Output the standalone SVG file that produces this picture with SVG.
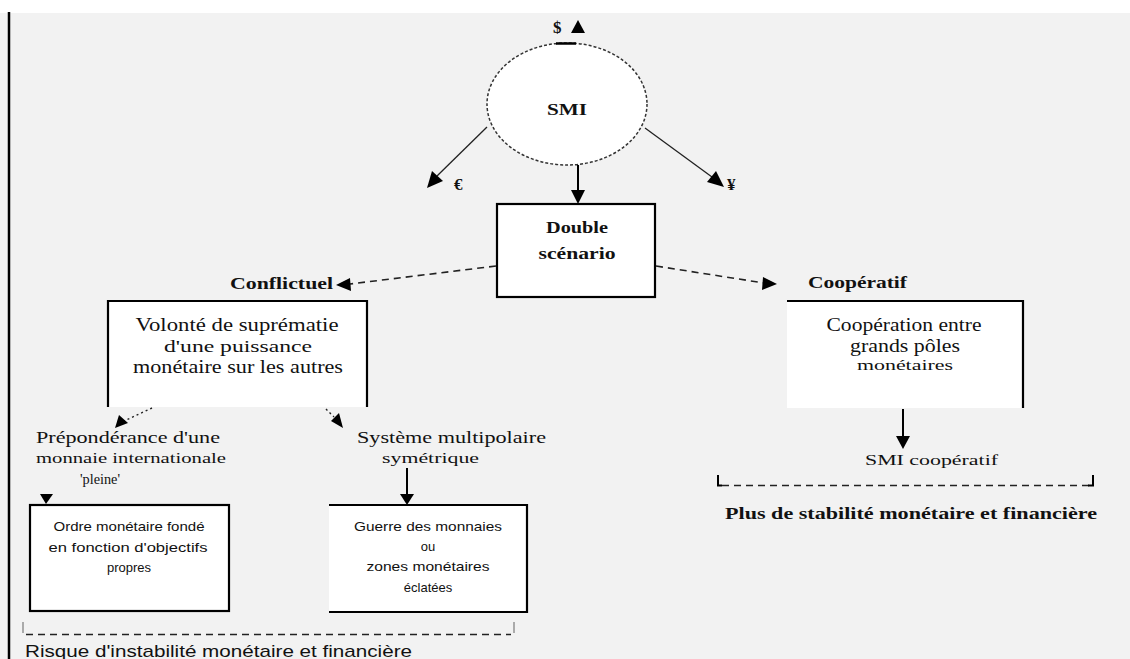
<svg xmlns="http://www.w3.org/2000/svg" width="1130" height="659" viewBox="0 0 1130 659">
<style>
.serif{font-family:"Liberation Serif","Times New Roman",serif;fill:#111}
.sans{font-family:"Liberation Sans",Arial,sans-serif;fill:#111}
.b{font-weight:bold}
.box{fill:#fff;stroke:none}
.edge{stroke:#000;stroke-width:2.2;fill:none}
.solid{stroke:#000;stroke-width:2;fill:none}
.thin{stroke:#222;stroke-width:1.3;fill:none}
.dash{stroke:#222;stroke-width:1.6;fill:none;stroke-dasharray:7 5}
.dot{stroke:#222;stroke-width:1.4;fill:none;stroke-dasharray:2 3}
.head{fill:#000}
</style>
<rect x="0" y="0" width="1130" height="659" fill="#fff"/>
<rect x="0" y="13" width="1130" height="646" fill="#f2f2f2"/>
<line x1="9" y1="12" x2="9" y2="659" stroke="#000" stroke-width="2.5"/>

<g id="smi">
<ellipse cx="567" cy="104" rx="80" ry="61" fill="#fff" stroke="#333" stroke-width="1.5" stroke-dasharray="3 2"/>
<line x1="556" y1="43.5" x2="576" y2="43.5" stroke="#000" stroke-width="2.5"/>
<text class="serif b" x="567" y="115" font-size="17" text-anchor="middle" textLength="40" lengthAdjust="spacingAndGlyphs">SMI</text>
</g>

<g id="dollar">
<text class="serif b" x="553" y="33" font-size="17">$</text>
<polygon class="head" points="571,33 585,33 578,20"/>
</g>
<g id="euro"><text class="serif b" x="454" y="190" font-size="17">€</text></g>
<g id="yen"><text class="serif b" x="727" y="190" font-size="17">¥</text></g>

<g id="double">
<rect class="box" x="497" y="204" width="158" height="93"/>
<rect x="497" y="204" width="158" height="93" fill="none" stroke="#000" stroke-width="2.2"/>
<text class="serif b" x="577" y="233" font-size="16" text-anchor="middle" textLength="62" lengthAdjust="spacingAndGlyphs">Double</text>
<text class="serif b" x="577" y="259" font-size="16" text-anchor="middle" textLength="77" lengthAdjust="spacingAndGlyphs">scénario</text>
</g>

<g id="conflictuel">
<text class="serif b" x="230" y="289" font-size="16" textLength="103" lengthAdjust="spacingAndGlyphs">Conflictuel</text>
</g>
<g id="cooperatif">
<text class="serif b" x="808" y="288" font-size="16" textLength="99" lengthAdjust="spacingAndGlyphs">Coopératif</text>
</g>

<g id="volonte">
<rect class="box" x="108" y="301" width="259" height="106"/>
<path class="edge" d="M108,407 V301 H367 V407"/>
<text class="serif" x="237" y="331" font-size="18" text-anchor="middle" textLength="203" lengthAdjust="spacingAndGlyphs">Volonté de suprématie</text>
<text class="serif" x="238" y="352" font-size="16" text-anchor="middle" textLength="148" lengthAdjust="spacingAndGlyphs">d'une puissance</text>
<text class="serif" x="238" y="373" font-size="18" text-anchor="middle" textLength="210" lengthAdjust="spacingAndGlyphs">monétaire sur les autres</text>
</g>

<g id="cooperation">
<rect class="box" x="787" y="301" width="236" height="107"/>
<path class="edge" d="M787,301 H1023 V408"/>
<text class="serif" x="904" y="331" font-size="18" text-anchor="middle" textLength="155" lengthAdjust="spacingAndGlyphs">Coopération entre</text>
<text class="serif" x="905" y="352" font-size="18" text-anchor="middle" textLength="110" lengthAdjust="spacingAndGlyphs">grands pôles</text>
<text class="serif" x="905" y="370" font-size="14" text-anchor="middle" textLength="96" lengthAdjust="spacingAndGlyphs">monétaires</text>
</g>

<g id="preponderance">
<text class="serif" x="36" y="443" font-size="17" textLength="184" lengthAdjust="spacingAndGlyphs">Prépondérance d'une</text>
<text class="serif" x="36" y="463" font-size="14" textLength="190" lengthAdjust="spacingAndGlyphs">monnaie internationale</text>
<text class="serif" x="80" y="484" font-size="15" textLength="40" lengthAdjust="spacingAndGlyphs">'pleine'</text>
</g>

<g id="multipolaire">
<text class="serif" x="357" y="443" font-size="17" textLength="189" lengthAdjust="spacingAndGlyphs">Système multipolaire</text>
<text class="serif" x="382" y="463" font-size="14" textLength="97" lengthAdjust="spacingAndGlyphs">symétrique</text>
</g>

<g id="ordre">
<rect class="box" x="30" y="505" width="199" height="106"/>
<rect x="30" y="505" width="199" height="106" fill="none" stroke="#000" stroke-width="2.2"/>
<text class="sans" x="129" y="531" font-size="13" text-anchor="middle" textLength="151" lengthAdjust="spacingAndGlyphs">Ordre monétaire fondé</text>
<text class="sans" x="128" y="552" font-size="13" text-anchor="middle" textLength="159" lengthAdjust="spacingAndGlyphs">en fonction d'objectifs</text>
<text class="sans" x="129" y="572" font-size="13" text-anchor="middle">propres</text>
</g>

<g id="guerre">
<rect class="box" x="329" y="505" width="198" height="107"/>
<path class="edge" d="M329,505 H527 V612 H329"/>
<text class="sans" x="428" y="531" font-size="13" text-anchor="middle" textLength="148" lengthAdjust="spacingAndGlyphs">Guerre des monnaies</text>
<text class="sans" x="428" y="551" font-size="13" text-anchor="middle">ou</text>
<text class="sans" x="428" y="571" font-size="13" text-anchor="middle" textLength="123" lengthAdjust="spacingAndGlyphs">zones monétaires</text>
<text class="sans" x="428" y="592" font-size="13" text-anchor="middle">éclatées</text>
</g>

<g id="smi-cooperatif">
<text class="serif" x="865" y="465" font-size="15" textLength="133" lengthAdjust="spacingAndGlyphs">SMI coopératif</text>
</g>

<g id="plus-stabilite">
<path d="M718,475 V485.5 H722" stroke="#000" stroke-width="2" fill="none"/>
<line x1="722" y1="485.5" x2="1090" y2="485.5" class="dash" stroke-dasharray="5 3"/>
<path d="M1088,485.5 H1093 V475" stroke="#000" stroke-width="2" fill="none"/>
<text class="serif b" x="725" y="519" font-size="17" textLength="372" lengthAdjust="spacingAndGlyphs">Plus de stabilité monétaire et financière</text>
</g>

<g id="risque">
<line x1="23" y1="622" x2="23" y2="633" stroke="#aaa" stroke-width="2"/>
<line x1="26" y1="634.5" x2="511" y2="634.5" class="dash" stroke-dasharray="5 3"/>
<line x1="514" y1="622" x2="514" y2="633" stroke="#aaa" stroke-width="2"/>
<text class="sans" x="25" y="657" font-size="17" textLength="387" lengthAdjust="spacingAndGlyphs">Risque d'instabilité monétaire et financière</text>
</g>

<g id="connectors">
<line class="thin" x1="487" y1="127" x2="437" y2="176"/>
<polygon class="head" points="427,188 432,171 443,181"/>
<line class="thin" x1="645" y1="128" x2="712" y2="177"/>
<polygon class="head" points="724,187 707,182 716,171"/>
<line class="solid" x1="578" y1="165" x2="578" y2="192"/>
<polygon class="head" points="571,190 585,190 578,204"/>
<line class="dash" x1="496" y1="266" x2="350" y2="284"/>
<polygon class="head" points="336,285 350,278 351,291"/>
<line class="dash" x1="656" y1="266" x2="764" y2="283"/>
<polygon class="head" points="777,284 763,277 762,290"/>
<line class="dot" x1="152" y1="408" x2="124" y2="421"/>
<polygon class="head" points="115,428 119,415 128,423"/>
<line class="dot" x1="326" y1="409" x2="334" y2="417"/>
<polygon class="head" points="343,428 331,421 339,413"/>
<line class="solid" x1="407" y1="468" x2="407" y2="496"/>
<polygon class="head" points="400,494 414,494 407,505"/>
<polygon class="head" points="40,494 53,494 46,504"/>
<line class="solid" x1="903" y1="409" x2="903" y2="438"/>
<polygon class="head" points="896,436 910,436 903,449"/>
</g>
</svg>
